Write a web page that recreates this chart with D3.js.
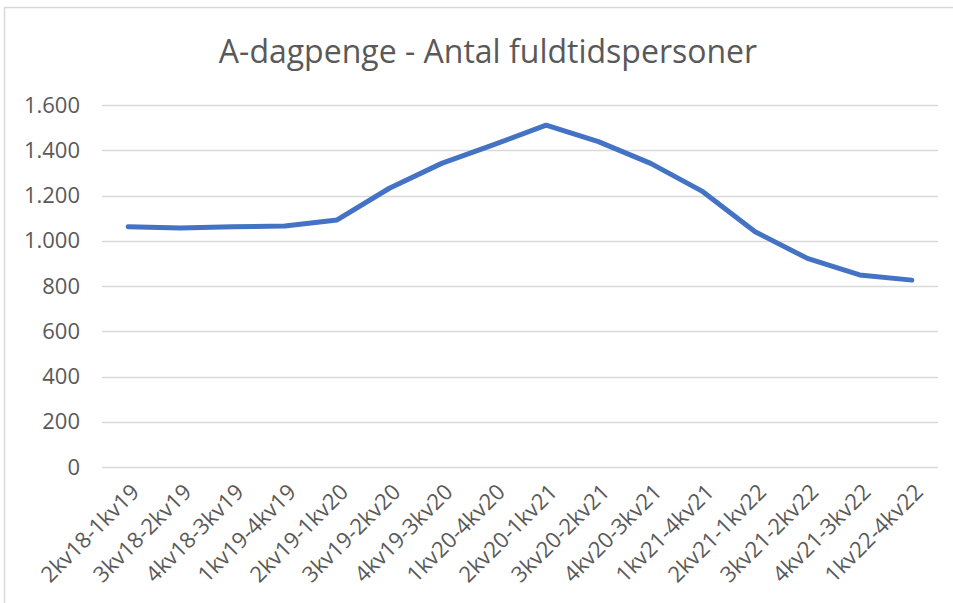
<!DOCTYPE html>
<html>
<head>
<meta charset="utf-8">
<script src="https://cdn.jsdelivr.net/npm/d3@7"></script>
<style>
  body { margin: 0; background: #fff; }
  svg text { font-family: "Open Sans", sans-serif; fill: #595959; }
</style>
</head>
<body>
<svg id="chart" width="953" height="603"></svg>
<script>
// periods (rolling 4 quarters)
var periods = ["2kv18-1kv19", "3kv18-2kv19", "4kv18-3kv19", "1kv19-4kv19", "2kv19-1kv20",
  "3kv19-2kv20", "4kv19-3kv20", "1kv20-4kv20", "2kv20-1kv21", "3kv20-2kv21", "4kv20-3kv21",
  "1kv21-4kv21", "2kv21-1kv22", "3kv21-2kv22", "4kv21-3kv22", "1kv22-4kv22"];
var fuldtid = [1062, 1056, 1062, 1065, 1092, 1232, 1342, 1425, 1511, 1438, 1342, 1217, 1040, 922, 849, 826];
var yTicks = [0, 200, 400, 600, 800, 1000, 1200, 1400, 1600];
var title = "A-dagpenge - Antal fuldtidspersoner";

var svg = d3.select("#chart");
var margin = {left: 102, right: 15, top: 105, bottom: 136};
var width = 953, height = 603;

// chart frame
svg.append("rect")
  .attr("x", 4.5).attr("y", 7.5)
  .attr("width", 960).attr("height", 620)
  .attr("fill", "none").attr("stroke", "#d9d9d9").attr("stroke-width", 1.5);

var x = d3.scaleBand()
  .domain(periods)
  .range([margin.left, width - margin.right]);

var y = d3.scaleLinear()
  .domain([0, 1600])
  .range([height - margin.bottom, margin.top]);

svg.append("text")
  .attr("x", 488).attr("y", 63)
  .attr("text-anchor", "middle")
  .style("font-size", "32px")
  .text(title);

// gridlines
svg.append("g")
  .selectAll("line")
  .data(yTicks)
  .enter().append("line")
    .attr("x1", margin.left).attr("x2", width - margin.right)
    .attr("y1", function(d) { return Math.round(y(d)) + 0.5; })
    .attr("y2", function(d) { return Math.round(y(d)) + 0.5; })
    .attr("stroke", "#d9d9d9").attr("stroke-width", 1.5);

var fmt = function(d) { return d3.format(",")(d).replace(/,/g, "."); };

svg.append("g")
  .selectAll("text")
  .data(yTicks)
  .enter().append("text")
    .attr("x", 80)
    .attr("y", function(d) { return y(d); })
    .attr("dy", "0.35em")
    .attr("text-anchor", "end")
    .style("font-size", "22px")
    .text(fmt);

svg.append("g")
  .selectAll("text")
  .data(periods)
  .enter().append("text")
    .attr("text-anchor", "end")
    .attr("transform", function(d) {
      var cx = x(d) + x.bandwidth() / 2 + 7;
      return "translate(" + cx + ",488) rotate(-45)";
    })
    .attr("dy", "0.35em")
    .style("font-size", "22px")
    .text(function(d) { return d; });

var line = d3.line()
  .x(function(d, i) { return x(periods[i]) + x.bandwidth() / 2; })
  .y(function(d) { return y(d); });

svg.append("path")
  .datum(fuldtid)
  .attr("d", line)
  .attr("fill", "none")
  .attr("stroke", "#4472c4")
  .attr("stroke-width", 5)
  .attr("stroke-linejoin", "round")
  .attr("stroke-linecap", "round");
</script>
</body>
</html>
